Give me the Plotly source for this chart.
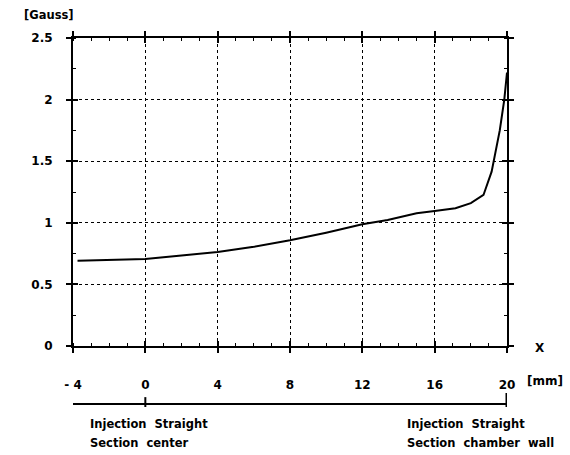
import plotly.graph_objects as go

x_mm = [-3.75, -2, 0, 2, 4, 6, 8, 10, 12, 13.4, 15, 16, 17.15, 18, 18.7, 19.15, 19.6, 19.85, 20]
b_gauss = [0.692, 0.697, 0.706, 0.735, 0.763, 0.805, 0.858, 0.92, 0.988, 1.023, 1.077, 1.096, 1.118, 1.16, 1.226, 1.415, 1.75, 2.0, 2.22]

x_ticks = [-4, 0, 4, 8, 12, 16, 20]
x_ticktext = ["- 4", "0", "4", "8", "12", "16", "20"]
y_ticks = [0, 0.5, 1, 1.5, 2, 2.5]
y_ticktext = ["0", "0.5", "1", "1.5", "2", "2.5"]

FONT = dict(family="DejaVu Sans, sans-serif", size=12, color="black", weight="bold")
SMALL = dict(family="DejaVu Sans, sans-serif", size=11.5, color="black", weight="bold")

fig = go.Figure()
fig.add_trace(go.Scatter(x=x_mm, y=b_gauss, mode="lines",
                         line=dict(color="black", width=2),
                         showlegend=False, hoverinfo="skip"))
fig.add_trace(go.Scatter(x=[None], y=[None], xaxis="x2", yaxis="y2", showlegend=False))

XR = [-4, 20]
YR = [0, 2.5]

fig.update_layout(
    width=570, height=455,
    margin=dict(l=73, r=63, t=38, b=109),
    paper_bgcolor="white", plot_bgcolor="white",
    font=FONT,
    xaxis=dict(range=XR, tickvals=x_ticks, ticktext=x_ticktext, showgrid=True,
               gridcolor="black", griddash="dot", gridwidth=1,
               showline=True, linecolor="black", linewidth=2, mirror="ticks",
               ticks="outside", ticklen=5, tickwidth=2, tickcolor="black",
               ticklabelstandoff=22, zeroline=False, tickfont=FONT,
               minor=dict(dtick=1, tick0=0, ticks="inside", ticklen=3, tickwidth=1, tickcolor="black", showgrid=False)),
    yaxis=dict(range=YR, tickvals=y_ticks, ticktext=y_ticktext, showgrid=True,
               gridcolor="black", griddash="dot", gridwidth=1,
               showline=True, linecolor="black", linewidth=2, mirror="ticks",
               ticks="outside", ticklen=5, tickwidth=2, tickcolor="black",
               ticklabelstandoff=11, zeroline=False, tickfont=FONT,
               minor=dict(dtick=0.25, tick0=0, ticks="inside", ticklen=3, tickwidth=1, tickcolor="black", showgrid=False)),
    xaxis2=dict(range=XR, overlaying="x", anchor="y", tickvals=x_ticks, showticklabels=False,
                ticks="inside", ticklen=5, tickwidth=2, tickcolor="black", showgrid=False,
                zeroline=False, showline=False, mirror="ticks"),
    yaxis2=dict(range=YR, overlaying="y", anchor="x", tickvals=y_ticks, showticklabels=False,
                ticks="inside", ticklen=5, tickwidth=2, tickcolor="black", showgrid=False,
                zeroline=False, showline=False, mirror="ticks"),
)

# secondary reference line with markers at the straight-section center and chamber wall
fig.add_shape(type="line", xref="x", yref="paper", x0=-5.16, x1=21.0, y0=-0.188, y1=-0.188,
              line=dict(color="black", width=2))
fig.add_shape(type="line", xref="x", yref="paper", x0=0, x1=0, y0=-0.166, y1=-0.198,
              line=dict(color="black", width=2))
fig.add_shape(type="line", xref="x", yref="paper", x0=20, x1=20, y0=-0.153, y1=-0.198,
              line=dict(color="black", width=3))

ann = [
    dict(text="[Gauss]", x=-0.117, y=1.045, xanchor="left", yanchor="bottom", font=SMALL),
    dict(text="X", x=1.06, y=-0.006, xanchor="left", yanchor="middle", font=FONT),
    dict(text="[mm]", x=1.041, y=-0.114, xanchor="left", yanchor="middle", font=FONT),
    dict(text="Injection  Straight", x=0.035, y=-0.253, xanchor="left", yanchor="middle", font=SMALL),
    dict(text="Section  center", x=0.035, y=-0.315, xanchor="left", yanchor="middle", font=SMALL),
    dict(text="Injection  Straight", x=0.765, y=-0.253, xanchor="left", yanchor="middle", font=SMALL),
    dict(text="Section  chamber  wall", x=0.765, y=-0.315, xanchor="left", yanchor="middle", font=SMALL),
]
for a in ann:
    fig.add_annotation(xref="paper", yref="paper", showarrow=False, **a)

fig.write_html("out.html", config={"displayModeBar": False},
               post_script="document.body.style.margin='0';")
